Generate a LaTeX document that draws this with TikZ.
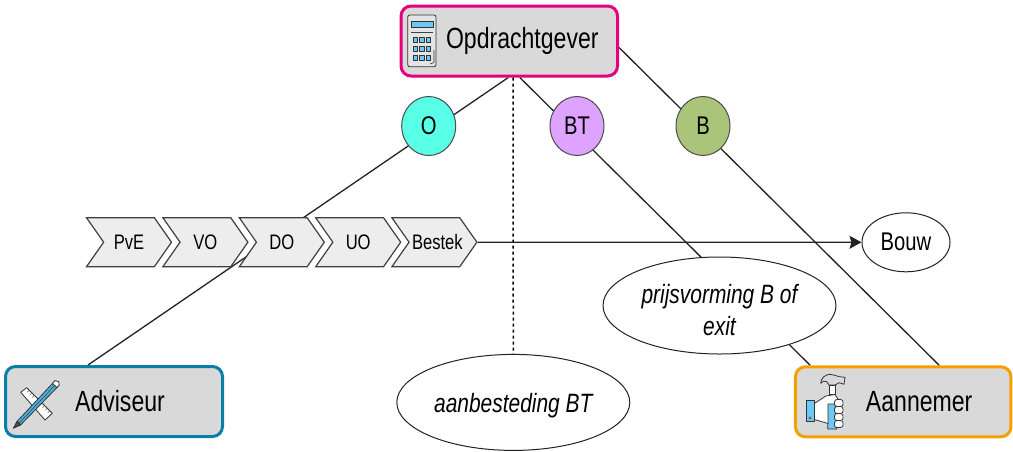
\documentclass[tikz,border=0pt]{standalone}
\usepackage{fontspec}
\setmainfont[FakeStretch=0.79]{Liberation Sans}
\usetikzlibrary{shapes.geometric,shapes.symbols,arrows.meta,backgrounds,calc}
\definecolor{opdrachtpink}{RGB}{230, 0, 126}
\definecolor{adviseurblue}{RGB}{10, 125, 168}
\definecolor{aannemerorange}{RGB}{245, 160, 0}
\definecolor{boxgray}{RGB}{217, 217, 217}
\definecolor{chevrongray}{RGB}{237, 237, 237}
\definecolor{linedark}{RGB}{34, 34, 34}
\definecolor{turquoisefill}{RGB}{90, 255, 232}
\definecolor{lilacfill}{RGB}{221, 163, 255}
\definecolor{olivefill}{RGB}{170, 196, 122}
\definecolor{iconblue}{RGB}{108, 200, 245}
\tikzset{
  partybox/.style={draw, rounded corners=10pt, fill=boxgray, line width=3pt, minimum height=70pt,
    inner sep=0pt, font=\fontsize{29.2}{32}\selectfont},
  phasechevron/.style={signal, signal from=west, signal to=east, signal pointer angle=110, draw=black!75,
    fill=chevrongray, line width=1.2pt, minimum width=85pt, minimum height=49pt, inner sep=0pt,
    font=\fontsize{21}{23}\selectfont},
  contractcircle/.style={ellipse, draw=black!70, line width=1pt, minimum width=54pt, minimum height=59pt,
    inner sep=0pt, font=\fontsize{25.6}{28}\selectfont},
  stepellipse/.style={ellipse, draw=linedark, fill=white, line width=1pt, inner sep=0pt, align=center,
    font=\fontsize{26.5}{32.7}\selectfont\itshape},
  relation/.style={draw=linedark, line width=1.3pt},
  icon/.style={draw=black!80, line width=.8pt, line join=round}
}
\begin{document}
\begin{tikzpicture}[x=1pt,y=-1pt]
            \useasboundingbox (0,0) rectangle (1013,451);
            % Parties:
            \node[partybox, draw=opdrachtpink,   minimum width=216.5pt] (opdrachtgever) at (509.3, 41.0) {\hspace*{26pt}Opdrachtgever};
            \node[partybox, draw=adviseurblue,   minimum width=217pt]   (adviseur)      at (114.0,401.5) {\hspace*{12pt}Adviseur};
            \node[partybox, draw=aannemerorange, minimum width=215.5pt] (aannemer)      at (903.2,401.8) {\hspace*{32pt}Aannemer};
            % Contracts:
            \node[contractcircle, fill=turquoisefill] (o)  at (428.7,126.0) {O};
            \node[contractcircle, fill=lilacfill]     (bt) at (577.0,126.0) {BT};
            \node[contractcircle, fill=olivefill]     (b)  at (703.0,126.0) {B};
            % Phases:
            \node[phasechevron] (pve)    at (129.0,242.2) {PvE};
            \node[phasechevron] (vo)     at (205.4,242.2) {VO};
            \node[phasechevron] (do)     at (281.8,242.2) {DO};
            \node[phasechevron] (uo)     at (358.2,242.2) {UO};
            \node[phasechevron] (bestek) at (434.4,242.2) {\makebox[0pt]{\hspace*{6pt}Bestek}};
            % Steps:
            \node[stepellipse, font=\fontsize{25.6}{28}\selectfont, minimum width=88pt, minimum height=59pt] (bouw) at (906.0,242.3) {Bouw};
            \node[stepellipse, minimum width=233pt, minimum height=97pt] (prijsvorming) at (719.5,305.5) {\rule{0pt}{28.5pt}prijsvorming B of\\exit};
            \node[stepellipse, minimum width=233pt, minimum height=96pt] (aanbesteding) at (513.3,402.4) {\rule{0pt}{25.5pt}aanbesteding BT};
            % Connectors behind the nodes:
            \begin{pgfonlayer}{background}
                \draw[relation] ([xshift=-1pt]opdrachtgever.south) -- ([xshift=-26pt]adviseur.north);
                \draw[relation] ([xshift=10.5pt]opdrachtgever.south) -- ([xshift=-93pt]aannemer.north);
                \draw[relation] ([yshift=-6.5pt]opdrachtgever.east) -- ([xshift=36pt]aannemer.north);
            \end{pgfonlayer}
            \draw[draw=black, line width=1.5pt, dashed, dash pattern=on 3pt off 3pt] ([xshift=3.7pt]opdrachtgever.south) -- (aanbesteding.north);
            \draw[relation, -{Stealth[length=12pt,width=13pt,inset=2pt]}] (bestek.east) -- (bouw.west);
            % Calculator:
            \filldraw[icon, fill=boxgray!70, rounded corners=2pt] (407.8,15.0) rectangle (436.0,66.8);
            \filldraw[icon, fill=iconblue] (411.3,21.7) rectangle (433.3,27.7);
            \fill[black!75] (411.3,31.7) rectangle (433.3,33.3);
            \foreach \col in {0,1,2}
                \foreach \row in {0,1,2}
                    \filldraw[icon, line width=.5pt, fill=iconblue] (413.3+6.4*\col,37.3+8.8*\row) rectangle ++(4.4,5.2);
            \draw[icon, line width=.6pt] (434.0,50.0) -- (434.0,62.5) -- (430.0,64.0);
            % Ruler and pencil:
            \filldraw[icon, fill=white] (20.7,392.3) -- (26.7,387.7) -- (52.3,413.3) -- (45.0,420.0) -- cycle;
            \foreach \tick in {0.1,0.2,0.3,0.7,0.8,0.9}
                \draw[black!60, line width=.5pt] ($(26.7,387.7)!\tick!(52.3,413.3)$) -- ++(-2,2);
            \filldraw[icon, fill=iconblue!70!adviseurblue] (17.0,421.5) -- (52.5,383.5) -- (57.0,387.5) -- (20.5,425.0) -- cycle;
            \filldraw[icon, fill=black!70] (17.0,421.5) -- (13.3,428.3) -- (20.5,425.0) -- cycle;
            \filldraw[icon, fill=white] (52.5,383.5) -- (54.8,380.6) -- (58.8,381.6) -- (59.2,385.2) -- (57.0,387.5) -- cycle;
            \draw[black!80, line width=.5pt] (19.0,423.3) -- (54.7,385.5);
            % Hammer in a hand:
            \filldraw[icon, fill=boxgray] (820.7,383.3) .. controls (821.0,378.0) and (825.0,374.5) .. (830.0,374.3) .. controls (833.0,374.3) and (836.0,376.0) .. (839.3,376.7) -- (845.0,377.3) -- (844.0,384.3) -- (839.3,382.7) -- (835.0,385.0) -- (829.0,385.0) -- (826.7,381.7) .. controls (825.0,380.5) and (822.0,381.0) .. (820.7,383.3) -- cycle;
            \filldraw[icon, fill=white] (829.0,385.0) rectangle (835.0,394.0);
            \filldraw[icon, fill=iconblue] (827.7,403.0) -- (835.0,403.0) -- (836.7,429.0) -- (827.7,429.0) -- cycle;
            \filldraw[icon, fill=white] (814.3,403.5) -- (826.0,396.0) -- (835.0,394.5) -- (838.5,400.0) -- (834.5,404.0) -- (828.0,404.0) -- (828.0,423.5) -- (814.3,419.5) -- cycle;
            \foreach \knuckle in {401,408,415,422}
                \filldraw[icon, fill=white, rounded corners=2.5pt] (834.5,\knuckle-1.5) rectangle ++(8.5,7);
            \filldraw[icon, fill=iconblue] (806.0,400.0) rectangle (814.3,421.7);
            \filldraw[icon, line width=.5pt, fill=white] (810.0,418.0) circle (1.3pt);
\end{tikzpicture}
\end{document}
